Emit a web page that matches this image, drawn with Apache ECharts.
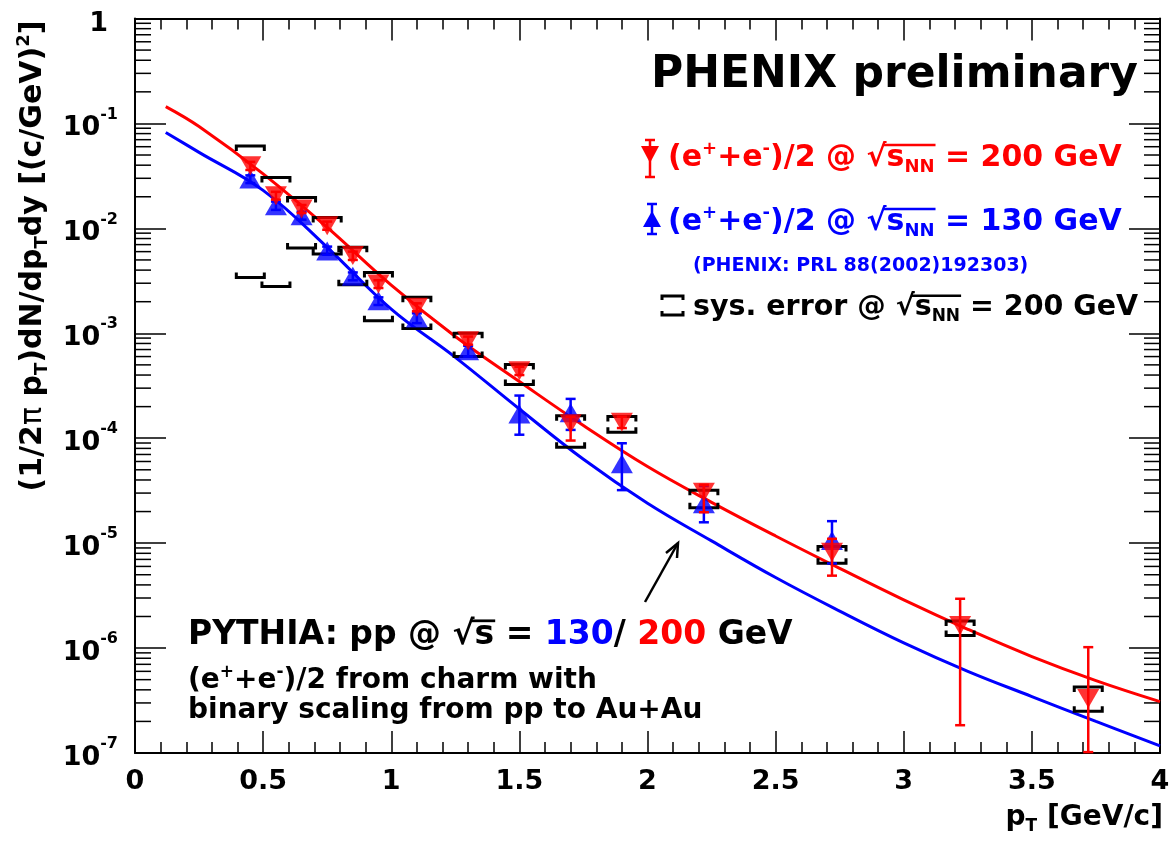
<!DOCTYPE html>
<html>
<head>
<meta charset="utf-8">
<script src="https://cdn.jsdelivr.net/npm/echarts@6/dist/echarts.min.js"></script>
<style>
  html, body { margin: 0; padding: 0; background: #fff; }
  #chart { width: 1173px; height: 844px; }
</style>
</head>
<body>
<div id="chart"></div>
<script>
const FF = '"DejaVu Sans", sans-serif';
const RED = '#ff0000';
const BLUE = '#0000ff';

// (e+ + e-)/2 @ 200 GeV
const redX  = [0.45, 0.55, 0.65, 0.75, 0.85, 0.95, 1.1, 1.3, 1.5, 1.7, 1.9, 2.22, 2.72, 3.22, 3.72];
const redY  = [0.0395, 0.0205, 0.0153, 0.0106, 0.0055, 0.00295, 0.00177, 0.00085, 0.00044, 1.37e-4, 1.42e-4, 3.06e-5, 8.2e-6, 1.64e-6, 3.3e-7];
const redLo = [0.036, 0.0188, 0.014, 0.0097, 0.0050, 0.0027, 0.00162, 0.00078, 0.00040, 9.5e-5, 1.25e-4, 1.97e-5, 4.9e-6, 1.84e-7, 1.02e-7];
const redHi = [0.043, 0.0223, 0.0167, 0.0116, 0.0060, 0.0032, 0.00193, 0.00093, 0.00048, 1.6e-4, 1.6e-4, 3.6e-5, 1.1e-5, 2.95e-6, 1.02e-6];

// (e+ + e-)/2 @ 130 GeV
const blueX  = [0.45, 0.55, 0.65, 0.75, 0.85, 0.95, 1.1, 1.3, 1.5, 1.7, 1.9, 2.22, 2.72];
const blueY  = [0.0295, 0.0164, 0.0132, 0.0061, 0.0035, 0.00204, 0.0014, 0.00068, 1.7e-4, 1.75e-4, 5.7e-5, 2.37e-5, 1.06e-5];
const blueLo = [0.027, 0.015, 0.0121, 0.0056, 0.0032, 0.00186, 0.00125, 0.00060, 1.08e-4, 1.2e-4, 3.2e-5, 1.58e-5, 6.4e-6];
const blueHi = [0.032, 0.018, 0.0144, 0.0067, 0.0038, 0.0022, 0.00155, 0.00076, 2.55e-4, 2.37e-4, 8.95e-5, 3.5e-5, 1.62e-5];

// sys. error @ 200 GeV
const sysX  = [0.45, 0.55, 0.65, 0.75, 0.85, 0.95, 1.1, 1.3, 1.5, 1.7, 1.9, 2.22, 2.72, 3.22, 3.72];
const sysLo = [0.0034, 0.00279, 0.0065, 0.0057, 0.0029, 0.00132, 0.00111, 0.0006, 3.25e-4, 8.2e-5, 1.14e-4, 2.17e-5, 6.45e-6, 1.32e-6, 2.5e-7];
const sysHi = [0.061, 0.0306, 0.0197, 0.0127, 0.0066, 0.0038, 0.0022, 0.001, 5.04e-4, 1.64e-4, 1.61e-4, 3.2e-5, 9.3e-6, 1.81e-6, 4.25e-7];

// PYTHIA curves
const curveX   = [0.12, 0.25, 0.5, 0.75, 1.0, 1.25, 1.5, 1.75, 2.0, 2.25, 2.5, 2.75, 3.0, 3.25, 3.5, 3.75, 4.0];
const pyth200  = [0.1445, 0.0933, 0.0331, 0.0102, 0.00288, 9.33e-4, 3.47e-4, 1.32e-4, 5.37e-5, 2.45e-5, 1.17e-5, 5.75e-6, 2.88e-6, 1.51e-6, 8.3e-7, 4.9e-7, 3.09e-7];
const pyth130  = [0.082, 0.053, 0.023, 0.0066, 0.0017, 5.9e-4, 1.9e-4, 6.3e-5, 2.4e-5, 1.05e-5, 4.7e-6, 2.25e-6, 1.12e-6, 6.0e-7, 3.45e-7, 2.0e-7, 1.17e-7];

// log axis minor tick values (2..9 x 10^n)
const minorVals = [];
for (let n = -7; n < 0; n++) {
  for (let k = 2; k <= 9; k++) minorVals.push([k * Math.pow(10, n)]);
}

const zip = (a, b) => a.map((v, i) => [v, b[i]]);
const zip3 = (a, b, c) => a.map((v, i) => [v, b[i], c[i]]);

function errRender(color) {
  return function (params, api) {
    const x = api.value(0);
    const lo = api.coord([x, api.value(1)]);
    const hi = api.coord([x, api.value(2)]);
    const c = 5;
    const st = { stroke: color, lineWidth: 2.5 };
    return {
      type: 'group',
      children: [
        { type: 'line', shape: { x1: lo[0], y1: lo[1], x2: hi[0], y2: hi[1] }, style: st },
        { type: 'line', shape: { x1: lo[0] - c, y1: lo[1], x2: lo[0] + c, y2: lo[1] }, style: st },
        { type: 'line', shape: { x1: hi[0] - c, y1: hi[1], x2: hi[0] + c, y2: hi[1] }, style: st }
      ]
    };
  };
}

function sysRender(params, api) {
  const x = api.value(0);
  const lo = api.coord([x, api.value(1)]);
  const hi = api.coord([x, api.value(2)]);
  const w = 14, t = 5;
  const st = { stroke: '#000', lineWidth: 3, fill: null };
  return {
    type: 'group',
    children: [
      { type: 'polyline', shape: { points: [[hi[0] - w, hi[1] + t], [hi[0] - w, hi[1]], [hi[0] + w, hi[1]], [hi[0] + w, hi[1] + t]] }, style: st },
      { type: 'polyline', shape: { points: [[lo[0] - w, lo[1] - t], [lo[0] - w, lo[1]], [lo[0] + w, lo[1]], [lo[0] + w, lo[1] - t]] }, style: st }
    ]
  };
}

function minorRender(params, api) {
  const v = api.value(0);
  const l = api.coord([0, v]);
  const r = api.coord([4, v]);
  const st = { stroke: '#000', lineWidth: 1.5 };
  return {
    type: 'group',
    children: [
      { type: 'line', shape: { x1: l[0], y1: l[1], x2: l[0] + 16, y2: l[1] }, style: st },
      { type: 'line', shape: { x1: r[0], y1: r[1], x2: r[0] - 16, y2: r[1] }, style: st }
    ]
  };
}

// rich text styles for graphic texts
function rs(F, color) {
  const base = { fontFamily: FF, fontWeight: 'bold', fill: color };
  return {
    a: Object.assign({ fontSize: F, lineHeight: Math.round(F * 1.2) }, base),
    sup: Object.assign({ fontSize: Math.round(F * 0.6), lineHeight: Math.round(F * 0.45), verticalAlign: 'top' }, base),
    sub: Object.assign({ fontSize: Math.round(F * 0.6), lineHeight: Math.round(F * 0.56), verticalAlign: 'bottom' }, base),
    b: Object.assign({ fontSize: F, lineHeight: Math.round(F * 1.2) }, base, { fill: BLUE }),
    r: Object.assign({ fontSize: F, lineHeight: Math.round(F * 1.2) }, base, { fill: RED }),
    g: Object.assign({ fontSize: F, lineHeight: Math.round(F * 1.2) }, base, { fontWeight: 'normal' })
  };
}

function txt(x, y, text, F, color, align, rot) {
  return {
    type: 'text', x: x, y: y, rotation: rot || 0, z: 20,
    style: {
      text: text, rich: rs(F, color), align: align || 'left', verticalAlign: 'middle',
      fontFamily: FF, fontWeight: 'bold', fontSize: F, fill: color
    }
  };
}

// overline for the square-root sign, placed from measured token widths
const mctx = document.createElement('canvas').getContext('2d');
function tw(s, F) {
  mctx.font = 'bold ' + F + 'px "DejaVu Sans"';
  return mctx.measureText(s).width;
}
function sqrtBar(x0, yc, F, pre, under, color) {
  // pre: list of [text, size] before the root sign; under: list under the bar
  let x = x0;
  pre.forEach(p => { x += tw(p[0], p[1]); });
  const r = tw('√', F);
  const xa = x + r * 0.82;
  let xb = x + r;
  under.forEach(p => { xb += tw(p[0], p[1]); });
  const y = yc - 0.43 * F;
  return { type: 'line', z: 20, shape: { x1: xa, y1: y, x2: xb + 1, y2: y }, style: { stroke: color, lineWidth: Math.max(2, F / 12) } };
}

const lineSt = (c, w) => ({ stroke: c, lineWidth: w || 2.5 });

const axisLbl = {
  fontFamily: FF, fontWeight: 'bold', fontSize: 27, color: '#000', margin: 15,
  formatter: v => String(v)
};

const chart = echarts.init(document.getElementById('chart'), null, { renderer: 'canvas' });

const L1 = [['(e', 30], ['+', 18], ['+e', 30], ['-', 18], [')/2 @ ', 30]];
const LS = 28.5;

const option = {
  backgroundColor: '#fff',
  animation: false,
  grid: { left: 135, right: 13, top: 18, bottom: 91, containLabel: false },
  xAxis: [
    {
      type: 'value', min: 0, max: 4, interval: 0.5, position: 'bottom',
      axisLine: { show: true, onZero: false, lineStyle: { color: '#000', width: 2 } },
      axisTick: { show: true, inside: true, length: 22, lineStyle: { color: '#000', width: 1.5 } },
      minorTick: { show: true, splitNumber: 5, length: 11, lineStyle: { color: '#000', width: 1.5 } },
      splitLine: { show: false },
      axisLabel: axisLbl
    },
    {
      type: 'value', min: 0, max: 4, interval: 0.5, position: 'top',
      axisLine: { show: true, onZero: false, lineStyle: { color: '#000', width: 2 } },
      axisTick: { show: true, inside: true, length: 22, lineStyle: { color: '#000', width: 1.5 } },
      minorTick: { show: true, splitNumber: 5, length: 11, lineStyle: { color: '#000', width: 1.5 } },
      splitLine: { show: false },
      axisLabel: { show: false }
    }
  ],
  yAxis: [
    {
      type: 'log', logBase: 10, min: 1e-7, max: 1, splitNumber: 7, position: 'left',
      axisLine: { show: true, onZero: false, lineStyle: { color: '#000', width: 2 } },
      axisTick: { show: true, inside: true, length: 31, lineStyle: { color: '#000', width: 1.5 } },
      splitLine: { show: false },
      axisLabel: {
        margin: 17,
        formatter: function (v) {
          const e = Math.round(Math.log10(v));
          return e === 0 ? '{one|1}' : '{n|10}{s|' + e + '}';
        },
        rich: {
          n: { fontFamily: FF, fontWeight: 'bold', fontSize: 27, color: '#000', lineHeight: 34, padding: [10, 0, 0, 0] },
          s: { fontFamily: FF, fontWeight: 'bold', fontSize: 16, color: '#000', lineHeight: 14, verticalAlign: 'top' },
          one: { fontFamily: FF, fontWeight: 'bold', fontSize: 27, color: '#000', lineHeight: 34, padding: [10, 10, 0, 0] }
        }
      }
    },
    {
      type: 'log', logBase: 10, min: 1e-7, max: 1, splitNumber: 7, position: 'right',
      axisLine: { show: true, onZero: false, lineStyle: { color: '#000', width: 2 } },
      axisTick: { show: true, inside: true, length: 31, lineStyle: { color: '#000', width: 1.5 } },
      splitLine: { show: false },
      axisLabel: { show: false }
    }
  ],
  series: [
    {
      type: 'custom', name: 'minor', renderItem: minorRender, data: minorVals,
      encode: { y: 0 }, silent: true, z: 1
    },
    {
      type: 'line', name: 'PYTHIA 130', data: zip(curveX, pyth130), smooth: 0.4,
      showSymbol: false, lineStyle: { color: BLUE, width: 3 }, z: 2
    },
    {
      type: 'line', name: 'PYTHIA 200', data: zip(curveX, pyth200), smooth: 0.4,
      showSymbol: false, lineStyle: { color: RED, width: 3 }, z: 2
    },
    {
      type: 'custom', name: 'sys', renderItem: sysRender, data: zip3(sysX, sysLo, sysHi),
      encode: { x: 0, y: [1, 2] }, z: 3
    },
    {
      type: 'custom', name: 'err130', renderItem: errRender(BLUE), data: zip3(blueX, blueLo, blueHi),
      encode: { x: 0, y: [1, 2] }, z: 4
    },
    {
      type: 'scatter', name: '130 GeV', data: zip(blueX, blueY), symbol: 'triangle',
      symbolSize: [22, 19], itemStyle: { color: BLUE }, z: 5
    },
    {
      type: 'custom', name: 'err200', renderItem: errRender(RED), data: zip3(redX, redLo, redHi),
      encode: { x: 0, y: [1, 2] }, z: 6
    },
    {
      type: 'scatter', name: '200 GeV', data: zip(redX, redY), symbol: 'triangle', symbolRotate: 180,
      symbolSize: [22, 19], itemStyle: { color: RED }, z: 7
    }
  ],
  graphic: [
    // y axis title
    txt(33, 256, '{a|(1/2}{g|π}{a| p}{sub|T}{a|)dN/dp}{sub|T}{a|dy [(c/GeV)}{sup|2}{a|]}', 30, '#000', 'center', Math.PI / 2),
    // x axis title
    txt(1163, 818, '{a|p}{sub|T}{a| [GeV/c]}', 28, '#000', 'right'),
    // header
    txt(1138, 76, '{a|PHENIX preliminary}', 44, '#000', 'right'),
    // legend lines
    txt(668, 158, '{a|(e}{sup|+}{a|+e}{sup|-}{a|)/2 @ √}{a|s}{sub|NN}{a| = 200 GeV}', 30, RED, 'left'),
    sqrtBar(668, 158, 30, L1, [['s', 30], ['NN', 18]], RED),
    txt(668, 222, '{a|(e}{sup|+}{a|+e}{sup|-}{a|)/2 @ √}{a|s}{sub|NN}{a| = 130 GeV}', 30, BLUE, 'left'),
    sqrtBar(668, 222, 30, L1, [['s', 30], ['NN', 18]], BLUE),
    txt(693, 266, '{a|(PHENIX: PRL 88(2002)192303)}', 19, BLUE, 'left'),
    txt(693, 308, '{a|sys. error @ √}{a|s}{sub|NN}{a| = 200 GeV}', LS, '#000', 'left'),
    sqrtBar(693, 308, LS, [['sys. error @ ', LS]], [['s', LS], ['NN', Math.round(LS * 0.6)]], '#000'),
    // PYTHIA note
    txt(188, 635, '{a|PYTHIA: pp @ √s = }{b|130}{a|/ }{r|200}{a| GeV}', 33, '#000', 'left'),
    sqrtBar(188, 635, 33, [['PYTHIA: pp @ ', 33]], [['s', 33]], '#000'),
    txt(188, 681, '{a|(e}{sup|+}{a|+e}{sup|-}{a|)/2 from charm with}', 28, '#000', 'left'),
    txt(188, 711, '{a|binary scaling from pp to Au+Au}', 28, '#000', 'left'),
    // legend icons
    { type: 'line', shape: { x1: 650, y1: 140, x2: 650, y2: 177 }, style: lineSt(RED) },
    { type: 'line', shape: { x1: 645, y1: 140, x2: 655, y2: 140 }, style: lineSt(RED) },
    { type: 'line', shape: { x1: 645, y1: 177, x2: 655, y2: 177 }, style: lineSt(RED) },
    { type: 'polygon', shape: { points: [[641, 146], [659, 146], [650, 163]] }, style: { fill: RED } },
    { type: 'line', shape: { x1: 652, y1: 204, x2: 652, y2: 234 }, style: lineSt(BLUE) },
    { type: 'line', shape: { x1: 647, y1: 204, x2: 657, y2: 204 }, style: lineSt(BLUE) },
    { type: 'line', shape: { x1: 647, y1: 234, x2: 657, y2: 234 }, style: lineSt(BLUE) },
    { type: 'polygon', shape: { points: [[643, 227], [661, 227], [652, 211]] }, style: { fill: BLUE } },
    { type: 'polyline', shape: { points: [[662, 300], [662, 296], [683, 296], [683, 300]] }, style: { stroke: '#000', lineWidth: 3, fill: null } },
    { type: 'polyline', shape: { points: [[662, 311], [662, 315], [683, 315], [683, 311]] }, style: { stroke: '#000', lineWidth: 3, fill: null } },
    // arrow
    { type: 'polyline', shape: { points: [[645, 602], [678, 543]] }, style: { stroke: '#000', lineWidth: 2.5, fill: null } },
    { type: 'polyline', shape: { points: [[666, 553], [678, 543], [677, 558]] }, style: { stroke: '#000', lineWidth: 2.5, fill: null } }
  ]
};

chart.setOption(option);
</script>
</body>
</html>
